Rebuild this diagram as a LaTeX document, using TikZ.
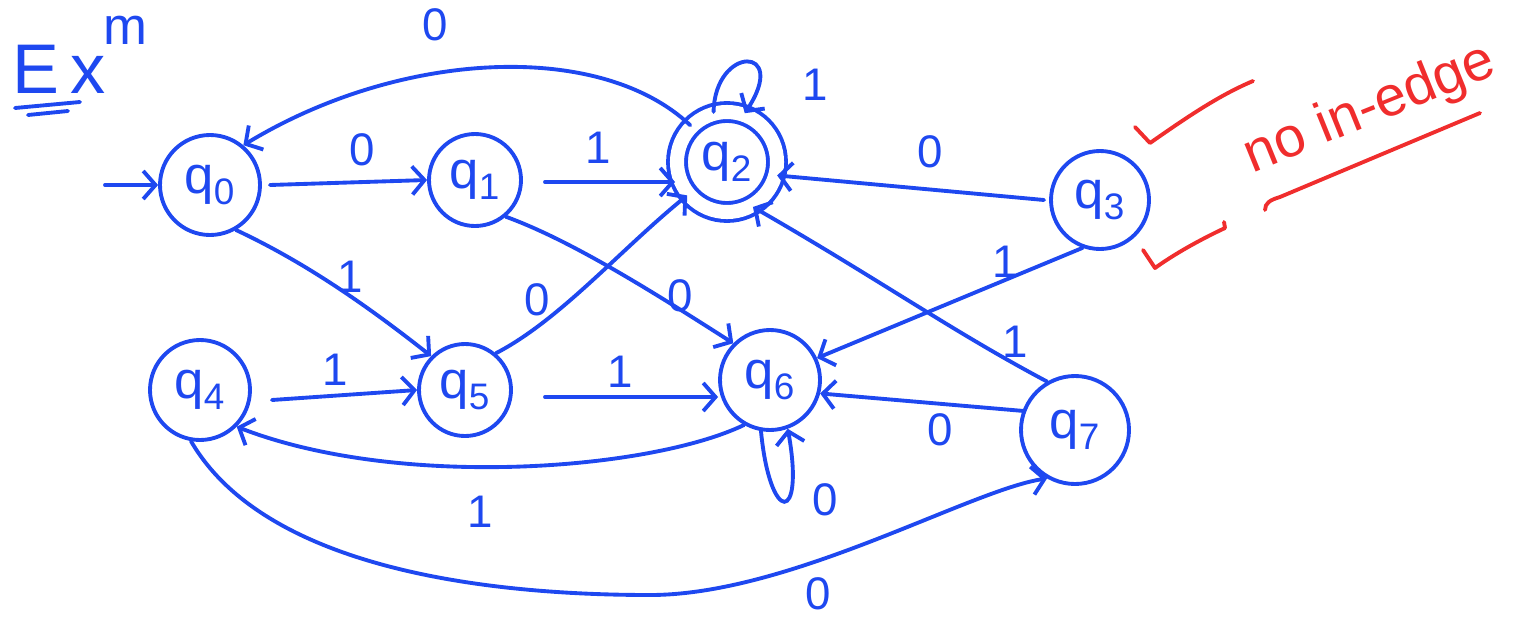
\documentclass[tikz,border=0pt]{standalone}
\usepackage{fontspec}
\setmainfont{Liberation Sans}
\usetikzlibrary{arrows.meta}
\definecolor{ink}{RGB}{30,72,240}
\definecolor{redink}{RGB}{240,45,45}
\tikzset{
  state/.style={circle, draw=ink, line width=2.2pt, text=ink, inner sep=0pt,
    font=\fontsize{30}{34}\selectfont},
  edge/.style={draw=ink, line width=2.2pt, line cap=round,
    -{Straight Barb[length=7pt,width=16pt,line width=2.2pt]}},
  lbl/.style={text=ink, font=\fontsize{26}{30}\selectfont, inner sep=0pt},
  rline/.style={draw=redink, line width=2.2pt, line cap=round, line join=round},
}
\begin{document}
\begin{tikzpicture}[x=0.02cm,y=-0.02cm]
\useasboundingbox (0,0) rectangle (1531,619);
% title
\node[text=ink, font=\fontsize{40}{44}\selectfont, inner sep=0pt, anchor=base west] (title) at (12,93) {E\,x};
\node[text=ink, font=\fontsize{30}{34}\selectfont, inner sep=0pt] (titlesup) at (125,30) {m};
\draw[draw=ink, line width=2.2pt, line cap=round] (15,108) -- (80,102);
\draw[draw=ink, line width=2.2pt, line cap=round] (28,115) -- (68,111);
% states
\node[state, minimum size=100*0.02cm] (q0) at (210,185) {q\textsubscript{0}};
\node[state, minimum size=92*0.02cm] (q1) at (475,180) {q\textsubscript{1}};
\node[state, minimum size=100*0.02cm, double=white, double distance=8pt] (q2) at (727,162) {q\textsubscript{2}};
\node[state, minimum size=98*0.02cm] (q3) at (1100,200) {q\textsubscript{3}};
\node[state, minimum size=100*0.02cm] (q4) at (200,390) {q\textsubscript{4}};
\node[state, minimum size=92*0.02cm] (q5) at (465,390) {q\textsubscript{5}};
\node[state, minimum size=100*0.02cm] (q6) at (770,380) {q\textsubscript{6}};
\node[state, minimum size=108*0.02cm] (q7) at (1075,430) {q\textsubscript{7}};
% start
\coordinate (start) at (105,185);
\draw[edge] (start) -- (q0);
% edges
\draw[edge] (q0.east) ++(8,0) coordinate (a01) (a01) -- (q1.west);
\draw[edge] (545,182) coordinate (a12) (a12) -- (q2.west |- a12);
\draw[edge] (q2.135) .. controls (600,40) and (400,50) .. (q0.50);
\draw[edge] (q2.105) .. controls (715,45) and (790,45) .. (q2.70);
\draw[edge] (q3.west) ++(-5,0) coordinate (a32) (a32) -- (q2.-15);
\draw[edge] (q0.-60) .. controls (300,260) and (360,300) .. (q5.135);
\draw[edge] (q1.-50) .. controls (570,240) and (650,290) .. (q6.135);
\draw[edge] (q5.50) .. controls (560,320) and (620,250) .. (q2.-140);
\draw[edge] (q3.-110) -- (q6.25);
\draw[edge] (q7.120) .. controls (950,330) and (880,280) .. (q2.-60);
\draw[edge] (q4.east) ++(20,10) coordinate (a45) (a45) -- (q5.west);
\draw[edge] (545,397) coordinate (a56) (a56) -- (q6.west |- a56);
\draw[edge] (q7.160) -- (q6.-15);
\draw[edge] (q6.-120) .. controls (650,470) and (400,490) .. (q4.-45);
\draw[edge] (q6.-100) .. controls (770,525) and (805,525) .. (q6.-70);
\draw[edge] (q4.-100) .. controls (260,560) and (460,595) .. (650,595) .. controls (790,595) and (970,490) .. (q7.-120);
% labels
\node[lbl] (l0) at (435,25) {0};
\node[lbl] (l1) at (815,85) {1};
\node[lbl] (l2) at (362,150) {0};
\node[lbl] (l3) at (598,148) {1};
\node[lbl] (l4) at (930,152) {0};
\node[lbl] (l5) at (350,277) {1};
\node[lbl] (l6) at (537,300) {0};
\node[lbl] (l7) at (680,296) {0};
\node[lbl] (l8) at (1005,262) {1};
\node[lbl] (l9) at (1015,342) {1};
\node[lbl] (l10) at (335,370) {1};
\node[lbl] (l11) at (620,372) {1};
\node[lbl] (l12) at (940,430) {0};
\node[lbl] (l13) at (480,512) {1};
\node[lbl] (l14) at (825,500) {0};
\node[lbl] (l15) at (818,594) {0};
% red annotations
\draw[rline] (1135,127) -- (1150,143) .. controls (1190,115) and (1220,95) .. (1253,81);
\draw[rline] (1143,250) -- (1155,268) .. controls (1180,250) and (1210,235) .. (1225,228) -- (1224,222);
\draw[rline] (1265,210) .. controls (1265,203) and (1270,200) .. (1280,197) -- (1480,113);
\node[text=redink, font=\fontsize{32}{36}\selectfont, rotate=22, inner sep=0pt] (note) at (1370,110) {no in-edge};
\end{tikzpicture}
\end{document}
